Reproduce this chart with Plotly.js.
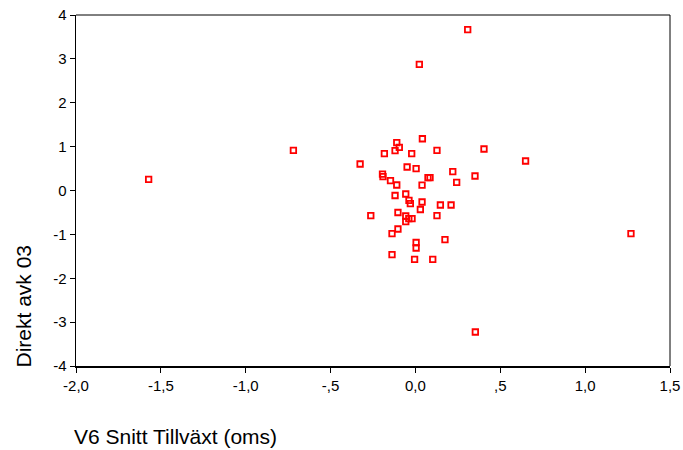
<!DOCTYPE html>
<html>
<head>
<meta charset="utf-8">
<script src="https://cdn.plot.ly/plotly-3.0.1.min.js"></script>
<style>
html,body{margin:0;padding:0;background:#fff;}
#chart{width:683px;height:450px;}
</style>
</head>
<body>
<div id="chart"></div>
<script>
// V6 Snitt Tillväxt (oms)
var growth = [
  0.041, -0.110, -0.095, -0.120, -0.183, -0.022, 0.127, 0.404, -0.326, -0.049,
  0.004, -0.194, -0.191, -0.147, -0.110, 0.074, 0.086, 0.039, 0.220, 0.243,
  0.351, -0.120, -0.057, -0.038, -0.030, 0.039, 0.029, 0.147, 0.210, -0.263,
  -0.103, -0.057, -0.057, -0.039, -0.020, 0.127, -0.103, -0.138, 0.174, 0.004,
  0.004, -0.138, -0.005, 0.102,
  -1.572, -0.719, 0.649, 1.270, 0.308, 0.023, 0.353
];
// Direkt avk 03
var yieldVals = [
  1.18, 1.09, 0.985, 0.907, 0.839, 0.839, 0.916, 0.946, 0.604, 0.536,
  0.497, 0.372, 0.315, 0.223, 0.125, 0.292, 0.292, 0.121, 0.428, 0.187,
  0.330, -0.114, -0.080, -0.223, -0.301, -0.262, -0.433, -0.330, -0.330, -0.574,
  -0.501, -0.581, -0.711, -0.643, -0.643, -0.574, -0.877, -0.985, -1.121, -1.185,
  -1.311, -1.463, -1.568, -1.568,
  0.255, 0.916, 0.672, -0.985, 3.665, 2.876, -3.225
];
var xTickVals = [-2.0, -1.5, -1.0, -0.5, 0.0, 0.5, 1.0, 1.5];
var xTickText = ["-2,0", "-1,5", "-1,0", "-,5", "0,0", ",5", "1,0", "1,5"];
var yTickVals = [-4, -3, -2, -1, 0, 1, 2, 3, 4];
var yTickText = ["-4", "-3", "-2", "-1", "0", "1", "2", "3", "4"];
var xTitle = "V6 Snitt Tillväxt (oms)";
var yTitle = "Direkt avk 03";

var font = "Liberation Sans, Arial, sans-serif";

var trace = {
  x: growth,
  y: yieldVals,
  type: "scatter",
  mode: "markers",
  marker: {
    symbol: "square-open",
    size: 5.5,
    color: "#ff0000",
    line: {color: "#ff0000", width: 1.8}
  },
  hoverinfo: "skip"
};

var layout = {
  width: 683,
  height: 450,
  margin: {l: 76, r: 13, t: 15, b: 83.5, pad: 0},
  paper_bgcolor: "#ffffff",
  plot_bgcolor: "#ffffff",
  showlegend: false,
  font: {family: font, size: 15, color: "#000"},
  xaxis: {
    range: [-2.0, 1.5],
    tickvals: xTickVals,
    ticktext: xTickText,
    ticks: "outside",
    ticklen: 5,
    tickwidth: 1,
    tickcolor: "#000",
    showline: true,
    linewidth: 1.5,
    linecolor: "#000",
    showgrid: false,
    zeroline: false,
    tickfont: {family: font, size: 15, color: "#000"}
  },
  yaxis: {
    range: [-4, 4],
    tickvals: yTickVals,
    ticktext: yTickText,
    ticks: "outside",
    ticklen: 5,
    tickwidth: 1,
    tickcolor: "#000",
    showline: true,
    linewidth: 1.5,
    linecolor: "#000",
    showgrid: false,
    zeroline: false,
    tickfont: {family: font, size: 15, color: "#000"}
  },
  shapes: [
    {type: "line", xref: "paper", yref: "paper", x0: 0, x1: 1, y0: 1, y1: 1, line: {color: "#000", width: 1}},
    {type: "line", xref: "paper", yref: "paper", x0: 1, x1: 1, y0: 0, y1: 1, line: {color: "#000", width: 1}}
  ],
  annotations: [
    {
      text: xTitle, xref: "paper", yref: "paper",
      x: -0.006, y: -0.2, xanchor: "left", yanchor: "middle",
      showarrow: false, font: {family: font, size: 21, color: "#000"}
    },
    {
      text: yTitle, xref: "paper", yref: "paper",
      x: -0.0892, y: 0.1695, xanchor: "center", yanchor: "middle",
      textangle: -90,
      showarrow: false, font: {family: font, size: 21, color: "#000"}
    }
  ]
};

Plotly.newPlot("chart", [trace], layout, {staticPlot: true, displayModeBar: false});
</script>
</body>
</html>
